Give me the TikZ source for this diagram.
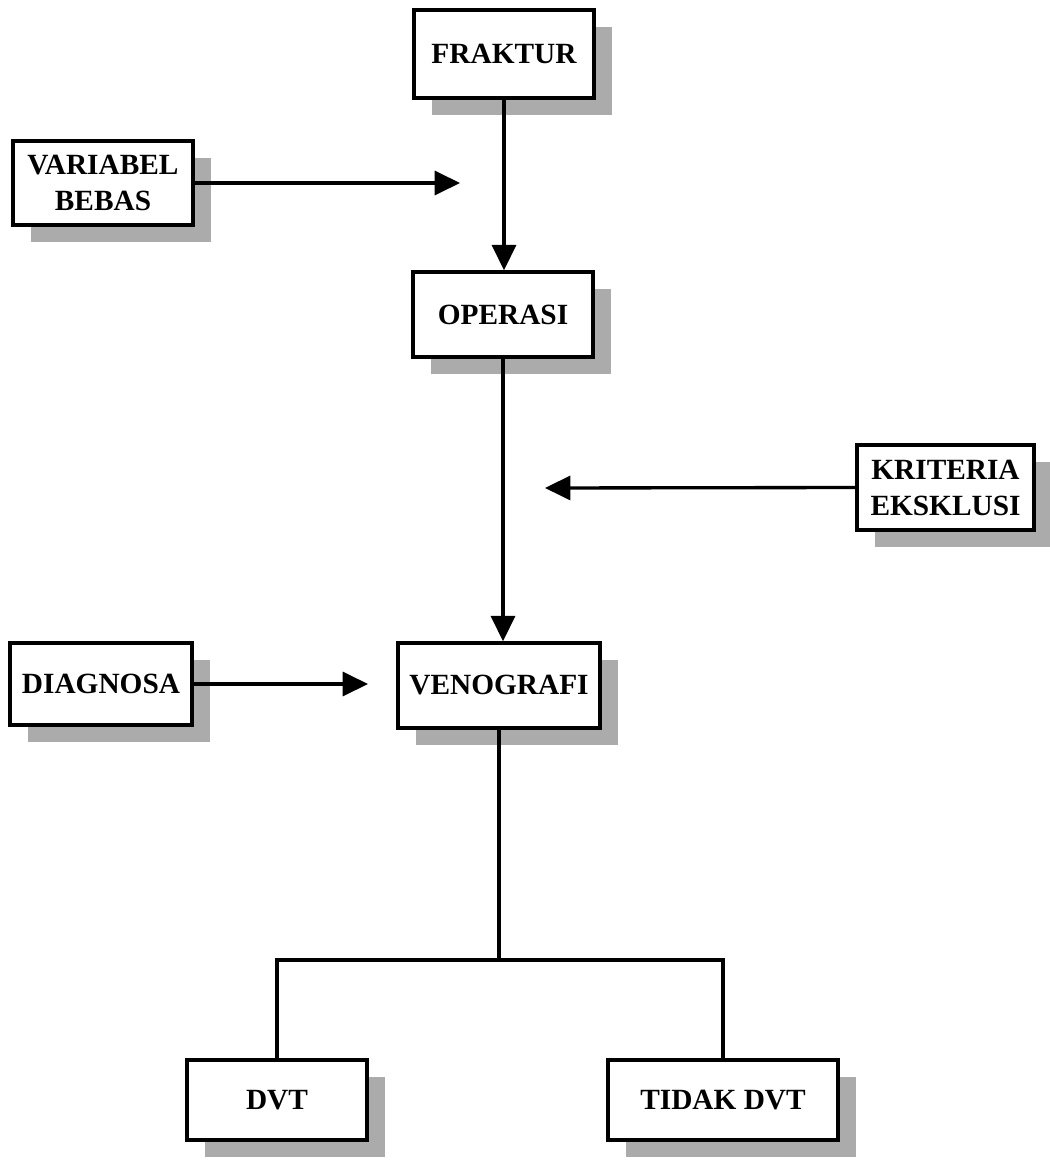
\documentclass[tikz,border=0pt]{standalone}
\usepackage{fontspec}
\setmainfont{Liberation Serif}
\usetikzlibrary{arrows.meta}
% name, centre x, centre y, width, height (px), text
\newcommand\mybox[6]{%
  \fill[shade] (#2-#4/2+18,#3-#5/2+17) rectangle (#2+#4/2+18,#3+#5/2+17);
  \node[boxst, minimum width=#4*0.75pt, minimum height=#5*0.75pt] (#1) at (#2,#3) {#6};}
\begin{document}
\begin{tikzpicture}[x=0.75pt,y=-0.75pt,
  boxst/.style={draw, line width=2.6pt, fill=white, inner sep=0pt, align=center,
    font=\bfseries\fontsize{22}{27}\selectfont},
  shade/.style={fill=black!33},
  conn/.style={line width=2.5pt},
  arr/.style={conn, -{Triangle[length=19pt,width=18pt]}}]
\useasboundingbox (0,0) rectangle (1049,1170);
\mybox{fraktur}{504}{54}{180}{88}{FRAKTUR}
\mybox{variabel}{103}{183}{180}{84}{VARIABEL\\BEBAS}
\mybox{operasi}{503}{314.5}{180}{85}{OPERASI}
\mybox{kriteria}{945.5}{487.5}{177}{85}{KRITERIA\\EKSKLUSI}
\mybox{diagnosa}{101}{684}{182}{82}{DIAGNOSA}
\mybox{venografi}{499}{685.5}{202}{85}{VENOGRAFI}
\mybox{dvt}{277}{1100}{180}{80}{DVT}
\mybox{tidak}{723}{1100}{230}{80}{TIDAK DVT}
\coordinate (t1) at (460,183);
\coordinate (t2) at (545,488);
\coordinate (t3) at (368,684);
\coordinate (j) at (501,960);
\draw[arr] (fraktur.south) -- (fraktur.south |- operasi.north);
\draw[arr] (variabel.east) -- (t1);
\draw[arr] (kriteria.west) -- (t2);
\draw[arr] (operasi.south) -- (operasi.south |- venografi.north);
\draw[arr] (diagnosa.east) -- (t3);
\draw[conn] (venografi.south) -- (venografi.south |- j);
\draw[conn] (dvt.north) |- (j) -| (tidak.north);
\end{tikzpicture}
\end{document}
